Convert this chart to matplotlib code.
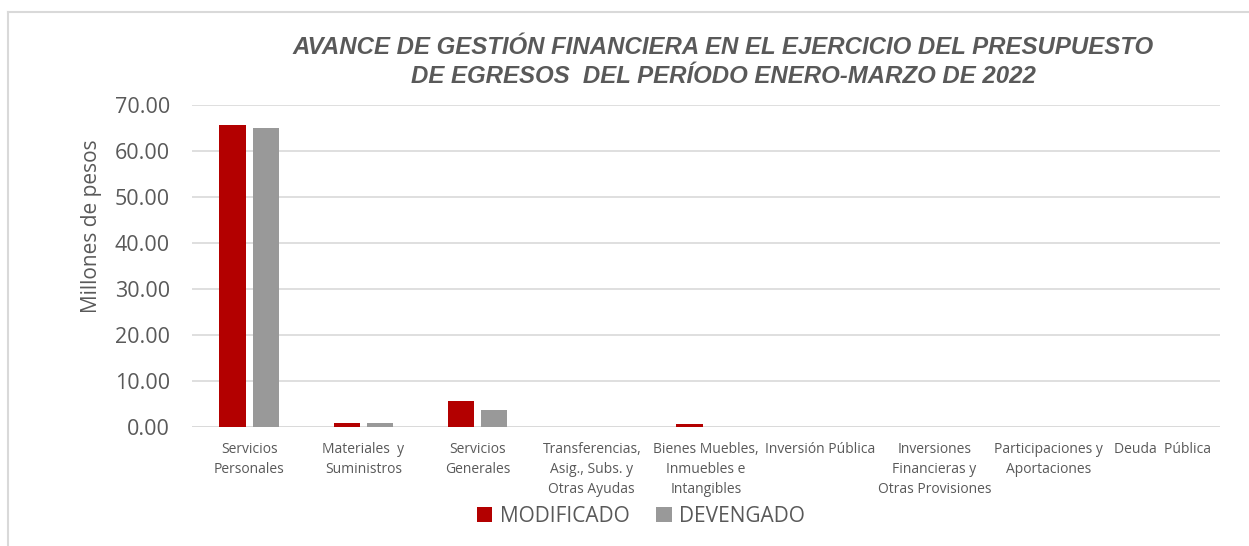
import matplotlib
matplotlib.use("Agg")
import matplotlib.pyplot as plt
import numpy as np
from matplotlib.lines import Line2D

categories = ["Servicios\nPersonales", "Materiales  y\nSuministros", "Servicios\nGenerales",
              "Transferencias,\nAsig., Subs. y\nOtras Ayudas", "Bienes Muebles,\nInmuebles e\nIntangibles",
              "Inversión Pública", "Inversiones\nFinancieras y\nOtras Provisiones",
              "Participaciones y\nAportaciones", "Deuda  Pública"]
modificado = [65.7, 0.95, 5.6, 0.0, 0.6, 0.0, 0.0, 0.0, 0.0]
devengado = [64.9, 0.9, 3.7, 0.0, 0.1, 0.0, 0.0, 0.0, 0.0]
yticks = [0, 10, 20, 30, 40, 50, 60, 70]

RED = "#b30000"
GREY = "#999999"
TXT = "#595959"

fig = plt.figure(figsize=(12.49, 5.46), dpi=100)
ax = fig.add_axes([192/1249, 1 - 427/546, (1220-192)/1249, (427-105)/546])

x = np.arange(len(categories))
w = 0.23
gap = 0.06
b1 = ax.bar(x - (w + gap)/2, modificado, w, color=RED, zorder=3, label="MODIFICADO")
b2 = ax.bar(x + (w + gap)/2, devengado, w, color=GREY, zorder=3, label="DEVENGADO")

ax.set_xlim(-0.5, len(categories) - 0.5)
ax.set_ylim(0, 70)
ax.set_yticks(yticks)
ax.set_yticklabels([f"{v:.2f}" for v in yticks], fontsize=15.5, color=TXT, family="Open Sans")
ax.set_xticks(x)
ax.set_xticklabels(categories, fontsize=10, color=TXT, family="Open Sans", linespacing=1.45)
ax.tick_params(axis="both", length=0)
ax.tick_params(axis="y", pad=16)
ax.tick_params(axis="x", pad=11)
ax.yaxis.grid(True, color="#d9d9d9", linewidth=1.2, zorder=0)
for s in ax.spines.values():
    s.set_visible(False)
ax.axhline(0, color="#d9d9d9", linewidth=1.2, zorder=2)

ax.set_ylabel("Millones de pesos", fontsize=15, color=TXT, family="Open Sans")
ax.yaxis.set_label_coords((102 - 192)/1028, 0.625)

fig.text(723/1249, 1 - 62/546, "AVANCE DE GESTIÓN FINANCIERA EN EL EJERCICIO DEL PRESUPUESTO\nDE EGRESOS  DEL PERÍODO ENERO-MARZO DE 2022",
         ha="center", va="center", fontsize=17.3, fontweight="bold", fontstyle="italic",
         color=TXT, family="Liberation Sans", linespacing=1.28)

leg = fig.legend(handles=[b1, b2], labels=["MODIFICADO", "DEVENGADO"], loc="center",
                 bbox_to_anchor=(641/1249, 1 - 516/546),
                 ncol=2, frameon=False, handlelength=0.75, handleheight=0.75,
                 handletextpad=0.35, columnspacing=1.3, prop={"family": "Open Sans", "size": 15})
for t in leg.get_texts():
    t.set_color(TXT)

# outer border (left and top)
fig.add_artist(Line2D([8/1249, 8/1249], [0, 1 - 12/546], color="#d9d9d9", linewidth=1.5, transform=fig.transFigure))
fig.add_artist(Line2D([8/1249, 1], [1 - 12/546, 1 - 12/546], color="#d9d9d9", linewidth=1.5, transform=fig.transFigure))

fig.savefig("out.png", dpi=100)
